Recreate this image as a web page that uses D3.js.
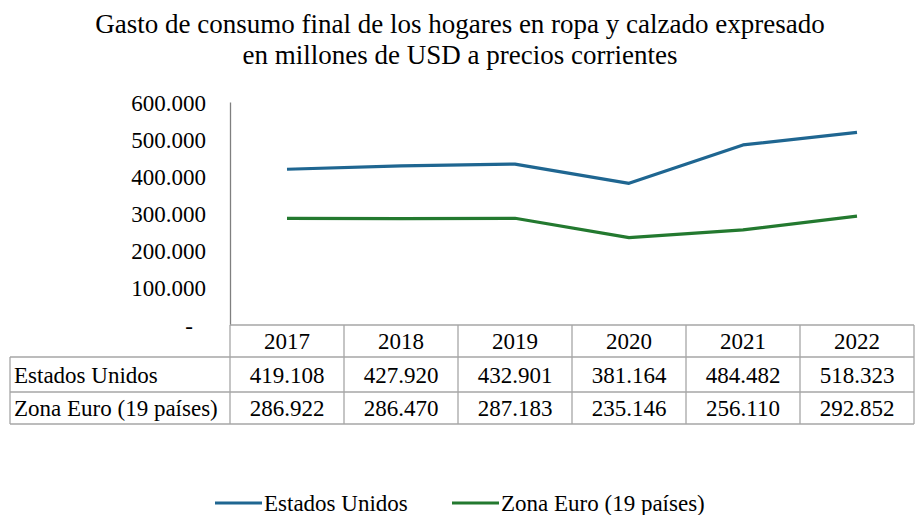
<!DOCTYPE html>
<html>
<head>
<meta charset="utf-8">
<script src="https://cdn.jsdelivr.net/npm/d3@7"></script>
<style>
  body { margin: 0; background: #fff; }
  svg text { font-family: "Liberation Serif", "Times New Roman", serif; fill: #000; }
</style>
</head>
<body>
<svg id="chart" width="918" height="515"></svg>
<script>
var years = ["2017", "2018", "2019", "2020", "2021", "2022"];
var estadosUnidos = [419108, 427920, 432901, 381164, 484482, 518323];
var zonaEuro = [286922, 286470, 287183, 235146, 256110, 292852];
var seriesNames = ["Estados Unidos", "Zona Euro (19 países)"];
var seriesColors = ["#1f6691", "#23792f"];
var yTicks = [0, 100000, 200000, 300000, 400000, 500000, 600000];
var titleLines = ["Gasto de consumo final de los hogares en ropa y calzado expresado",
                  "en millones de USD a precios corrientes"];

var svg = d3.select("#chart");
var plotLeft = 230, plotRight = 914, plotTop = 102, plotBottom = 325;
var tableLeft = 10;
var rowY = [325, 357, 392, 424];
var gridColor = "#a6a6a6";
var fontSize = 23;

var locale = d3.formatLocale({decimal: ",", thousands: ".", grouping: [3], currency: ["", ""]});
var fmt = locale.format(",d");

var x = d3.scaleBand().domain(years).range([plotLeft, plotRight]);
var y = d3.scaleLinear().domain([0, 600000]).range([plotBottom, plotTop]);

// title
svg.selectAll(".title")
    .data(titleLines)
    .enter()
    .append("text")
    .attr("class", "title")
    .attr("x", 460)
    .attr("y", function(d, i){ return 33 + i * 31; })
    .attr("text-anchor", "middle")
    .attr("font-size", 27)
    .text(function(d){ return d; });

// y axis
var yAxis = d3.axisLeft(y)
    .tickValues(yTicks)
    .tickSize(0)
    .tickPadding(24)
    .tickFormat(function(d){ return d === 0 ? "-" : fmt(d); });
var gy = svg.append("g").attr("transform", "translate(" + plotLeft + ",0)").call(yAxis);
gy.select(".domain").attr("stroke", "#7f7f7f").attr("stroke-width", 1.3);
gy.selectAll("text")
    .attr("font-size", fontSize)
    .attr("font-family", "Liberation Serif, serif")
    .attr("fill", "#000")
    .attr("dy", "0.35em")
    .attr("dx", function(d){ return d === 0 ? -13 : 0; });

// lines
var series = [estadosUnidos, zonaEuro];
var line = d3.line()
    .x(function(d, i){ return x(years[i]) + x.bandwidth() / 2; })
    .y(function(d){ return y(d); });
svg.selectAll(".series")
    .data(series)
    .enter()
    .append("path")
    .attr("class", "series")
    .attr("d", line)
    .attr("fill", "none")
    .attr("stroke", function(d, i){ return seriesColors[i]; })
    .attr("stroke-width", 3.2)
    .attr("stroke-linejoin", "round");

// data table
var grid = svg.append("g").attr("stroke", gridColor).attr("stroke-width", 1.3);
grid.append("line").attr("x1", plotLeft).attr("x2", plotRight).attr("y1", rowY[0]).attr("y2", rowY[0]);
for (var r = 1; r < rowY.length; r++) {
    grid.append("line").attr("x1", tableLeft).attr("x2", plotRight).attr("y1", rowY[r]).attr("y2", rowY[r]);
}
grid.append("line").attr("x1", tableLeft).attr("x2", tableLeft).attr("y1", rowY[1]).attr("y2", rowY[3]);
years.forEach(function(yr){
    grid.append("line").attr("x1", x(yr)).attr("x2", x(yr)).attr("y1", rowY[0]).attr("y2", rowY[3]);
});
grid.append("line").attr("x1", plotRight).attr("x2", plotRight).attr("y1", rowY[0]).attr("y2", rowY[3]);

svg.selectAll(".yearLabel")
    .data(years)
    .enter()
    .append("text")
    .attr("class", "yearLabel")
    .attr("x", function(d){ return x(d) + x.bandwidth() / 2; })
    .attr("y", (rowY[0] + rowY[1]) / 2)
    .attr("dy", "0.35em")
    .attr("text-anchor", "middle")
    .attr("font-size", fontSize)
    .text(function(d){ return d; });

series.forEach(function(vals, s){
    var cy = (rowY[s + 1] + rowY[s + 2]) / 2;
    svg.append("text")
        .attr("x", tableLeft + 4)
        .attr("y", cy)
        .attr("dy", "0.35em")
        .attr("font-size", fontSize)
        .text(seriesNames[s]);
    svg.selectAll(".val" + s)
        .data(vals)
        .enter()
        .append("text")
        .attr("class", "val" + s)
        .attr("x", function(d, i){ return x(years[i]) + x.bandwidth() / 2; })
        .attr("y", cy)
        .attr("dy", "0.35em")
        .attr("text-anchor", "middle")
        .attr("font-size", fontSize)
        .text(function(d){ return fmt(d); });
});

// legend
var legendX = [215, 452];
var leg = svg.selectAll(".legend")
    .data(seriesNames)
    .enter()
    .append("g")
    .attr("class", "legend")
    .attr("transform", function(d, i){ return "translate(" + legendX[i] + ",503)"; });
leg.append("line")
    .attr("x1", 0).attr("x2", 47)
    .attr("stroke", function(d, i){ return seriesColors[i]; })
    .attr("stroke-width", 3.2);
leg.append("text")
    .attr("x", 49)
    .attr("dy", "0.35em")
    .attr("font-size", fontSize)
    .text(function(d){ return d; });
</script>
</body>
</html>
